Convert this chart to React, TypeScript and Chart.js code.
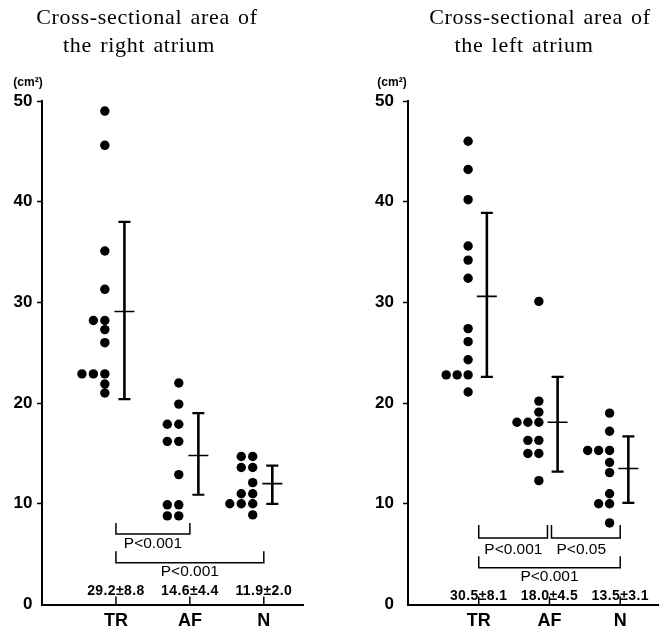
import React, { useEffect, useRef } from "react";
import { Chart, registerables } from "chart.js";

Chart.register(...registerables);

// ---------- data ----------
const categories = ["TR", "AF", "N"];
const yTickValues = [0, 10, 20, 30, 40, 50];

// Right atrium (cm²)
const raTR = [49.0, 45.6, 35.1, 31.3, 28.2, 28.2, 27.3, 26.0, 22.9, 22.9, 22.9, 21.9, 21.0];
const raAF = [22.0, 19.9, 17.9, 17.9, 16.2, 16.2, 12.9, 9.9, 9.9, 8.8, 8.8];
const raN = [14.7, 14.7, 13.6, 13.6, 12.1, 11.0, 11.0, 10.0, 10.0, 10.0, 8.9];
const raMean = [29.1, 14.8, 12.0];
const raLow = [20.4, 10.9, 10.0];
const raHigh = [38.0, 19.0, 13.8];
const raStats = ["29.2±8.8", "14.6±4.4", "11.9±2.0"];

// Left atrium (cm²)
const laTR = [46.0, 43.2, 40.2, 35.6, 34.2, 32.4, 27.4, 26.1, 24.3, 22.8, 22.8, 22.8, 21.1];
const laAF = [30.1, 20.2, 19.1, 18.1, 18.1, 18.1, 16.3, 16.3, 15.0, 15.0, 12.3];
const laN = [19.0, 17.2, 15.3, 15.3, 15.3, 14.1, 13.1, 11.0, 10.0, 10.0, 8.1];
const laMean = [30.6, 18.1, 13.5];
const laLow = [22.6, 13.2, 10.1];
const laHigh = [38.9, 22.6, 16.7];
const laStats = ["30.5±8.1", "18.0±4.5", "13.5±3.1"];

// ---------- layout (not data) ----------
const DOT_BASE = 0.15;
const DOT_STEP = 0.155;
const BAR_OFFSET = 0.115;
const OVERLAP = 0.85;

type Bracket = { from: number; to: number; top: number; bottom: number; insetL: number; insetR: number; label: string; labelX: number; labelY: number };
type TitleLine = { text: string; cx: number; y: number };
type PanelCfg = {
  groups: number[][];
  mean: number[];
  low: number[];
  high: number[];
  stats: string[];
  statsY: number;
  brackets: Bracket[];
  title: TitleLine[];
  unitX: number;
  yWidth: number;
  yPad: number;
  padRight: number;
  xMax: number;
};

const leftPanel: PanelCfg = {
  groups: [raTR, raAF, raN],
  mean: raMean,
  low: raLow,
  high: raHigh,
  stats: raStats,
  statsY: 1.35,
  brackets: [
    { from: 1, to: 2, top: 8.1, bottom: 7.0, insetL: 0, insetR: 0, label: "P<0.001", labelX: 1.5, labelY: 6.0 },
    { from: 1, to: 3, top: 5.3, bottom: 4.15, insetL: 0, insetR: 0, label: "P<0.001", labelX: 2.0, labelY: 3.25 },
  ],
  title: [
    { text: "Cross-sectional area of", cx: 147, y: 23.5 },
    { text: "the right atrium", cx: 139, y: 52 },
  ],
  unitX: 28,
  yWidth: 42,
  yPad: 4.5,
  padRight: 32,
  xMax: 3.53,
};

const rightPanel: PanelCfg = {
  groups: [laTR, laAF, laN],
  mean: laMean,
  low: laLow,
  high: laHigh,
  stats: laStats,
  statsY: 0.85,
  brackets: [
    { from: 1, to: 2, top: 7.9, bottom: 6.6, insetL: 0, insetR: 2, label: "P<0.001", labelX: 1.49, labelY: 5.4 },
    { from: 2, to: 3, top: 7.9, bottom: 6.6, insetL: 2, insetR: 0, label: "P<0.05", labelX: 2.45, labelY: 5.4 },
    { from: 1, to: 3, top: 4.8, bottom: 3.65, insetL: 0, insetR: 0, label: "P<0.001", labelX: 2.0, labelY: 2.75 },
  ],
  title: [
    { text: "Cross-sectional area of", cx: 205, y: 23.5 },
    { text: "the left atrium", cx: 189, y: 52 },
  ],
  unitX: 57,
  yWidth: 73,
  yPad: 9,
  padRight: 0,
  xMax: 3.54,
};

function dotPoints(groups: number[][]) {
  const pts: { x: number; y: number }[] = [];
  groups.forEach((vals, gi) => {
    const cat = gi + 1;
    const cols: number[][] = [];
    vals.forEach((v) => {
      let c = 0;
      while (cols[c] && cols[c].some((u) => Math.abs(u - v) < OVERLAP)) c++;
      if (!cols[c]) cols[c] = [];
      cols[c].push(v);
      pts.push({ x: cat - DOT_BASE - c * DOT_STEP, y: v });
    });
  });
  return pts;
}

const SANS = "'Liberation Sans', Arial, Helvetica, sans-serif";
const SERIF = "'Liberation Serif', 'Times New Roman', serif";

function makeOverlay(cfg: PanelCfg) {
  return {
    id: "overlay",
    afterDraw(chart: any) {
      const ctx: CanvasRenderingContext2D = chart.ctx;
      const xs = chart.scales.x;
      const ys = chart.scales.y;
      const area = chart.chartArea;
      ctx.save();
      ctx.fillStyle = "#000";
      ctx.strokeStyle = "#000";

      // titles
      ctx.font = `22px ${SERIF}`;
      (ctx as any).letterSpacing = "0.7px";
      (ctx as any).wordSpacing = "2px";
      ctx.textAlign = "center";
      ctx.textBaseline = "alphabetic";
      cfg.title.forEach((t) => ctx.fillText(t.text, t.cx, t.y));
      (ctx as any).letterSpacing = "0px";
      (ctx as any).wordSpacing = "0px";

      // unit
      ctx.font = `bold 12px ${SANS}`;
      ctx.textBaseline = "middle";
      ctx.fillText("(cm²)", cfg.unitX, 83);

      // inner x ticks
      ctx.lineWidth = 1.5;
      categories.forEach((_, i) => {
        const px = xs.getPixelForValue(i + 1);
        ctx.beginPath();
        ctx.moveTo(px, area.bottom - 8);
        ctx.lineTo(px, area.bottom + 1);
        ctx.stroke();
      });

      // brackets
      ctx.lineWidth = 1.5;
      cfg.brackets.forEach((b) => {
        const x1 = xs.getPixelForValue(b.from) + b.insetL;
        const x2 = xs.getPixelForValue(b.to) - b.insetR;
        const yt = ys.getPixelForValue(b.top);
        const yb = ys.getPixelForValue(b.bottom);
        ctx.beginPath();
        ctx.moveTo(x1, yt);
        ctx.lineTo(x1, yb);
        ctx.lineTo(x2, yb);
        ctx.lineTo(x2, yt);
        ctx.stroke();
      });
      ctx.font = `15.5px ${SANS}`;
      ctx.textBaseline = "middle";
      cfg.brackets.forEach((b) => {
        ctx.fillText(b.label, xs.getPixelForValue(b.labelX), ys.getPixelForValue(b.labelY));
      });

      // stats
      ctx.font = `bold 14px ${SANS}`;
      (ctx as any).letterSpacing = "0.4px";
      cfg.stats.forEach((s, i) => {
        ctx.fillText(s, xs.getPixelForValue(i + 1), ys.getPixelForValue(cfg.statsY));
      });
      (ctx as any).letterSpacing = "0px";
      ctx.restore();
    },
  };
}

function Panel({ cfg }: { cfg: PanelCfg }) {
  const ref = useRef<HTMLCanvasElement>(null);
  useEffect(() => {
    if (!ref.current) return;
    const dots = dotPoints(cfg.groups);
    const barLines: { x: number; y: number | null }[] = [];
    const caps: { x: number; y: number }[] = [];
    const means: { x: number; y: number }[] = [];
    categories.forEach((_, i) => {
      const bx = i + 1 + BAR_OFFSET;
      barLines.push({ x: bx, y: cfg.low[i] }, { x: bx, y: cfg.high[i] }, { x: bx, y: null });
      caps.push({ x: bx, y: cfg.low[i] }, { x: bx, y: cfg.high[i] });
      means.push({ x: bx, y: cfg.mean[i] });
    });
    const chart = new Chart(ref.current, {
      type: "scatter",
      data: {
        datasets: [
          {
            data: dots,
            pointRadius: 4.7,
            pointBackgroundColor: "#000",
            pointBorderWidth: 0,
            showLine: false,
          },
          {
            data: barLines as any,
            showLine: true,
            spanGaps: false,
            borderColor: "#000",
            borderWidth: 2.6,
            pointRadius: 0,
          },
          {
            data: caps,
            pointStyle: "line",
            pointRadius: 6,
            pointBorderWidth: 2.2,
            pointBorderColor: "#000",
            showLine: false,
          },
          {
            data: means,
            pointStyle: "line",
            pointRadius: 10,
            pointBorderWidth: 1.6,
            pointBorderColor: "#000",
            showLine: false,
          },
        ],
      },
      options: {
        responsive: false,
        animation: false,
        events: [],
        layout: { padding: { top: 101, right: cfg.padRight, bottom: 0, left: 0 } },
        plugins: { legend: { display: false }, tooltip: { enabled: false }, title: { display: false } },
        scales: {
          x: {
            type: "linear",
            min: 0,
            max: cfg.xMax,
            afterBuildTicks: (s: any) => {
              s.ticks = categories.map((_, i) => ({ value: i + 1 }));
            },
            afterFit: (s: any) => {
              s.height = 27.5;
            },
            ticks: {
              callback: (_v: any, i: number) => categories[i],
              font: { family: SANS, weight: "bold", size: 18 },
              color: "#000",
              padding: 6,
              maxRotation: 0,
              autoSkip: false,
            },
            grid: { display: true, drawOnChartArea: false, drawTicks: false },
            border: { display: true, color: "#000", width: 2 },
          },
          y: {
            type: "linear",
            min: 0,
            max: 50,
            afterBuildTicks: (s: any) => {
              s.ticks = yTickValues.map((v) => ({ value: v }));
            },
            afterFit: (s: any) => {
              s.width = cfg.yWidth;
            },
            ticks: {
              font: { family: SANS, weight: "bold", size: 17 },
              color: "#000",
              padding: cfg.yPad,
            },
            grid: {
              drawOnChartArea: false,
              drawTicks: true,
              tickLength: 5,
              tickWidth: 1.5,
              tickColor: (c: any) => (c.tick && c.tick.value === 0 ? "rgba(0,0,0,0)" : "#000"),
            },
            border: { display: true, color: "#000", width: 2 },
          },
        },
      },
      plugins: [makeOverlay(cfg)],
    } as any);
    return () => chart.destroy();
  }, [cfg]);
  return <canvas ref={ref} width={335} height={632} style={{ width: 335, height: 632, display: "block" }} />;
}

export default function App() {
  return (
    <div style={{ position: "absolute", left: 0, top: 0, width: 670, height: 632, display: "flex", background: "#fff", overflow: "hidden" }}>
      <Panel cfg={leftPanel} />
      <Panel cfg={rightPanel} />
    </div>
  );
}
